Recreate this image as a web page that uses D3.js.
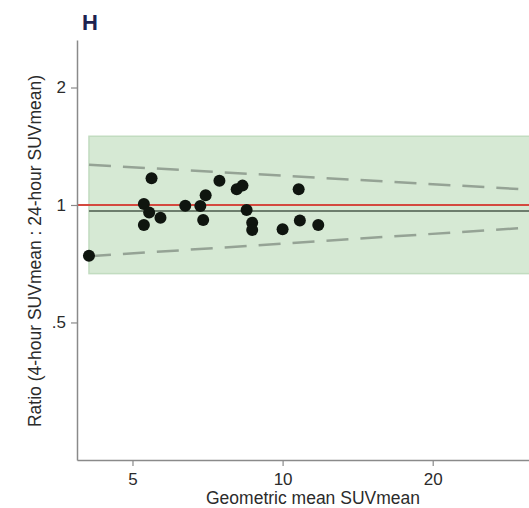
<!DOCTYPE html>
<html>
<head>
<meta charset="utf-8">
<script src="https://cdn.jsdelivr.net/npm/d3@7"></script>
<style>
  body { margin: 0; background: #fff; }
  svg { display: block; font-family: "Liberation Sans", Arial, sans-serif; }
</style>
</head>
<body>
<div id="chart"></div>
<script>
// geometric mean SUVmean (x) and ratio 4h:24h (y)
const geoMean = [4.09, 5.46, 5.27, 5.40, 5.27, 5.69, 6.38, 6.84, 7.01, 6.93,
                 7.47, 8.09, 8.31, 8.47, 8.69, 8.69, 10.0, 10.77, 10.83, 11.79];
const ratio = [0.741, 1.171, 1.006, 0.956, 0.889, 0.928, 0.996, 0.994, 1.059, 0.915,
               1.154, 1.097, 1.121, 0.971, 0.901, 0.863, 0.867, 1.097, 0.912, 0.889];

const meanRatio = 0.965;
const bandLimits = [0.667, 1.5];
const upperLimit = [[4.09, 1.268], [31.5, 1.094]];
const lowerLimit = [[4.09, 0.739], [31.5, 0.876]];

const xTicks = [5, 10, 20];
const yTicks = [0.5, 1, 2];
const yTickLabels = [".5", "1", "2"];

function drawChart() {
    const width = 529, height = 508;

    const svg = d3.select("#chart").append("svg")
        .attr("width", width)
        .attr("height", height);

    // log scales, axes meet at (77, 460)
    const x = d3.scaleLog().domain([3.87, 36]).range([77, 560]);
    const y = d3.scaleLog().domain([0.2221, 2.647]).range([460, 40]);

    const xMin = d3.min(geoMean), xMax = 36;

    // acceptance band
    svg.append("rect")
        .attr("x", x(xMin))
        .attr("y", y(bandLimits[1]))
        .attr("width", x(xMax) - x(xMin))
        .attr("height", y(bandLimits[0]) - y(bandLimits[1]))
        .attr("fill", "#d6e9d4")
        .attr("stroke", "#c2dcc0")
        .attr("stroke-width", 1.5);

    const line = d3.line().x(d => x(d[0])).y(d => y(d[1]));

    // limits of agreement
    [upperLimit, lowerLimit].forEach(pts => {
        svg.append("path")
            .attr("d", line(pts))
            .attr("fill", "none")
            .attr("stroke", "#95a395")
            .attr("stroke-width", 2.5)
            .attr("stroke-dasharray", "22,12");
    });

    // line of identity
    svg.append("path")
        .attr("d", line([[3.87, 1], [xMax, 1]]))
        .attr("stroke", "#d4493f")
        .attr("stroke-width", 1.8);

    // mean ratio
    svg.append("path")
        .attr("d", line([[xMin, meanRatio], [xMax, meanRatio]]))
        .attr("stroke", "#6d7d6d")
        .attr("stroke-width", 2);

    // points
    svg.selectAll("circle.pt")
        .data(geoMean)
        .enter()
        .append("circle")
        .attr("class", "pt")
        .attr("cx", d => x(d))
        .attr("cy", (d, i) => y(ratio[i]))
        .attr("r", 6)
        .attr("fill", "#0f150f");

    // axes
    const xAxis = svg.append("g")
        .attr("transform", "translate(0,460)")
        .call(d3.axisBottom(x).tickValues(xTicks).tickFormat(d3.format("d"))
            .tickSize(6).tickSizeOuter(0).tickPadding(7));

    const yAxis = svg.append("g")
        .attr("transform", "translate(77,0)")
        .call(d3.axisLeft(y).tickValues(yTicks)
            .tickFormat((d, i) => yTickLabels[i])
            .tickSize(6).tickSizeOuter(0).tickPadding(5));

    [xAxis, yAxis].forEach(ax => {
        ax.select(".domain").attr("stroke", "#8a8a8a").attr("stroke-width", 1.5);
        ax.selectAll(".tick line").attr("stroke", "#8a8a8a").attr("stroke-width", 1.2);
        ax.selectAll(".tick text")
            .attr("fill", "#2b2b2b")
            .style("font-size", "17px")
            .style("font-family", "Liberation Sans, Arial, sans-serif");
    });

    // axis titles
    svg.append("text")
        .attr("x", 313)
        .attr("y", 504)
        .attr("text-anchor", "middle")
        .attr("fill", "#2b2b2b")
        .style("font-size", "17.5px")
        .text("Geometric mean SUVmean");

    svg.append("text")
        .attr("transform", "translate(41,251) rotate(-90)")
        .attr("text-anchor", "middle")
        .attr("fill", "#2b2b2b")
        .style("font-size", "17.5px")
        .text("Ratio (4-hour SUVmean : 24-hour SUVmean)");

    // panel letter
    svg.append("text")
        .attr("x", 90)
        .attr("y", 30)
        .attr("text-anchor", "middle")
        .attr("fill", "#1c2250")
        .style("font-size", "22px")
        .style("font-weight", "bold")
        .text("H");
}

drawChart();
</script>
</body>
</html>
